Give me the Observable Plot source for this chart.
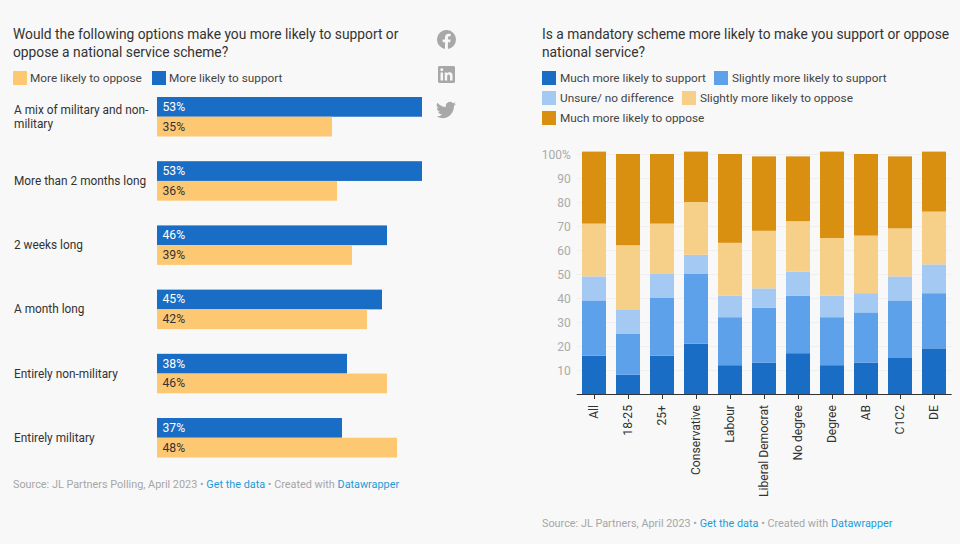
<!DOCTYPE html>
<html><head><meta charset="utf-8">
<script src="https://cdn.jsdelivr.net/npm/d3@7"></script>
<script src="https://cdn.jsdelivr.net/npm/@observablehq/plot@0.6"></script>
<style>
html,body{margin:0;padding:0;background:#f8f8f8;}
body{width:960px;height:544px;position:relative;overflow:hidden;font-family:Roboto,sans-serif;color:#333;}
.abs{position:absolute;white-space:nowrap;}
.title{font-size:13.8px;line-height:18px;color:#333;}
.leg{font-size:11.8px;line-height:16px;color:#444;}
.sw{position:absolute;width:14px;height:14px;}
.src{font-size:10.85px;line-height:14px;color:#a6a6a6;}
.src a{color:#1e9bd7;text-decoration:none;}
svg.plot{position:absolute;overflow:visible;background:transparent;}
</style></head><body>
<div class="abs title" style="left:13px;top:25px">Would the following options make you more likely to support or<br>oppose a national service scheme?</div>
<div class="abs title" style="left:542px;top:25px">Is a mandatory scheme more likely to make you support or oppose<br>national service?</div>
<div id="legL"></div><div id="legR"></div>
<div class="abs src" style="left:13px;top:478px">Source: JL Partners Polling, April 2023 • <a>Get the data</a> • Created with <a>Datawrapper</a></div>
<div class="abs src" style="left:542px;top:517px">Source: JL Partners, April 2023 • <a>Get the data</a> • Created with <a>Datawrapper</a></div>
<svg class="abs" style="left:437px;top:30px" width="19" height="19" viewBox="0 0 24 24"><path fill="#a8a8a8" d="M24 12a12 12 0 1 0-13.9 11.9v-8.4H7.1V12h3V9.400c0-3 1.800-4.700 4.500-4.700 1.300 0 2.700.2 2.700.2v3h-1.500c-1.500 0-2 .9-2 1.900V12h3.400l-.5 3.500h-2.900v8.400A12 12 0 0 0 24 12z"/></svg>
<svg class="abs" style="left:438px;top:66px" width="17" height="17" viewBox="0 0 24 24"><path fill="#a8a8a8" d="M22 0H2C.9 0 0 .9 0 2v20c0 1.100.9 2 2 2h20c1.100 0 2-.9 2-2V2c0-1.100-.9-2-2-2zM7.100 20.500H3.600V9h3.500v11.500zM5.300 7.400a2 2 0 1 1 0-4.100 2 2 0 0 1 0 4.100zm15.200 13.100H17v-5.600c0-1.300 0-3-1.900-3s-2.100 1.400-2.100 2.900v5.700H9.500V9h3.400v1.600c.5-.9 1.600-1.900 3.400-1.900 3.600 0 4.200 2.400 4.200 5.500v6.300z"/></svg>
<svg class="abs" style="left:436px;top:100px" width="20" height="20" viewBox="0 0 24 24"><path fill="#a8a8a8" d="M24 4.600c-.9.400-1.800.7-2.800.8 1-.6 1.800-1.600 2.200-2.700-1 .6-2 1-3.100 1.200A4.900 4.900 0 0 0 11.900 8.400 14 14 0 0 1 1.700 3.200a4.900 4.900 0 0 0 1.500 6.600c-.8 0-1.600-.2-2.200-.6 0 2.400 1.700 4.400 3.900 4.900-.7.200-1.500.2-2.200.1.600 2 2.400 3.400 4.600 3.400A9.900 9.900 0 0 1 0 19.600 14 14 0 0 0 7.500 21.800c9.100 0 14.300-7.700 14-14.600 1-.7 1.800-1.600 2.500-2.600z"/></svg>
<script>
const options = ["A mix of military and non-\nmilitary","More than 2 months long","2 weeks long","A month long","Entirely non-military","Entirely military"];
const support = [53,53,46,45,38,37];
const oppose = [35,36,39,42,46,48];
const leftSeries = ["More likely to support","More likely to oppose"];
const leftColors = ["#1a6dc4","#fec873"];
const groups = ["All","18-25","25+","Conservative","Labour","Liberal Democrat","No degree","Degree","AB","C1C2","DE"];
const stackSeries = ["Much more likely to support","Slightly more likely to support","Unsure/ no difference","Slightly more likely to oppose","Much more likely to oppose"];
const stackColors = ["#1a6dc4","#5ca1e9","#a4c9f3","#f6cf89","#d98f10"];
const muchSupport = [16,8,16,21,12,13,17,12,13,15,19];
const slightSupport = [23,17,24,29,20,23,24,20,21,24,23];
const unsure = [10,10,10,8,9,8,10,9,8,10,12];
const slightOppose = [22,27,21,22,22,24,21,24,24,20,22];
const muchOppose = [30,38,29,21,37,31,27,36,34,30,25];
const yTicks = [10,20,30,40,50,60,70,80,90,100];

function legend(host, items){
  for(const [label,color,x,y,tx] of items){
    const s=document.createElement("div");s.className="sw";s.style.cssText=`left:${x}px;top:${y}px;background:${color}`;host.appendChild(s);
    const t=document.createElement("div");t.className="abs leg";t.style.cssText=`left:${tx}px;top:${y-1}px`;t.textContent=label;host.appendChild(t);
  }
}
legend(document.getElementById("legL"),[
  ["More likely to oppose",leftColors[1],13,71,30],
  ["More likely to support",leftColors[0],152,71,169]]);
legend(document.getElementById("legR"),[
  [stackSeries[0],stackColors[0],542,71,560],
  [stackSeries[1],stackColors[1],714,71,732],
  [stackSeries[2],stackColors[2],542,91,560],
  [stackSeries[3],stackColors[3],682,91,700],
  [stackSeries[4],stackColors[4],542,111,560]]);

const leftData = options.flatMap((o,i)=>[
  {option:o,series:leftSeries[0],value:support[i]},
  {option:o,series:leftSeries[1],value:oppose[i]}]);
const left = Plot.plot({
  width:480,height:460,marginLeft:157,marginRight:58,marginTop:97,marginBottom:2.5,
  style:{background:"transparent",fontFamily:"Roboto,sans-serif",overflow:"visible"},
  x:{domain:[0,53],axis:null},
  y:{domain:leftSeries,axis:null,padding:0,round:false},
  fy:{domain:options,paddingInner:0.385,paddingOuter:0,round:false,axis:null},
  color:{domain:leftSeries,range:leftColors},
  marks:[
    Plot.axisFy({anchor:"left",tickSize:0,tickPadding:0,dx:-143.5,dy:-1,textAnchor:"start",fontSize:11.85,fill:"#333",label:null,lineHeight:1.18}),
    Plot.barX(leftData,{x:"value",y:"series",fy:"option",fill:"series"}),
    Plot.text(leftData,{x:0,y:"series",fy:"option",text:d=>d.value+"%",dx:5,dy:-0.5,textAnchor:"start",fontSize:12.2,fill:d=>d.series===leftSeries[0]?"#fff":"#333"})
  ]
});
left.classList.add("plot");left.style.left="0px";left.style.top="0px";
document.body.appendChild(left);

const stackData = stackSeries.flatMap((s,k)=>[muchSupport,slightSupport,unsure,slightOppose,muchOppose][k].map((v,i)=>({group:groups[i],series:s,value:v})));
const right = Plot.plot({
  width:430,height:410,marginLeft:46.7,marginRight:8.3,marginTop:154,marginBottom:16,
  style:{background:"transparent",fontFamily:"Roboto,sans-serif",overflow:"visible"},
  x:{domain:groups,paddingInner:0.29,paddingOuter:0.146,label:null,axis:null},
  y:{domain:[0,100],label:null,axis:null},
  color:{domain:stackSeries,range:stackColors},
  marks:[
    Plot.gridY(yTicks,{stroke:"#efefef",strokeOpacity:1}),
    Plot.barY(stackData,{x:"group",y:"value",fill:"series",order:stackSeries}),
    Plot.ruleY([0],{stroke:"#333",strokeWidth:1}),
    Plot.axisX({tickSize:5,tickRotate:-90,fontSize:12.15,fill:"#333",stroke:"#333",tickPadding:5.5,label:null}),
    Plot.axisY(yTicks,{tickSize:0,tickPadding:6.5,dy:0.5,fontSize:12,fill:"#aaa",label:null,tickFormat:d=>d===100?"100%":String(d)})
  ]
});
right.classList.add("plot");right.style.left="530px";right.style.top="0px";
document.body.appendChild(right);
</script>
</body></html>
